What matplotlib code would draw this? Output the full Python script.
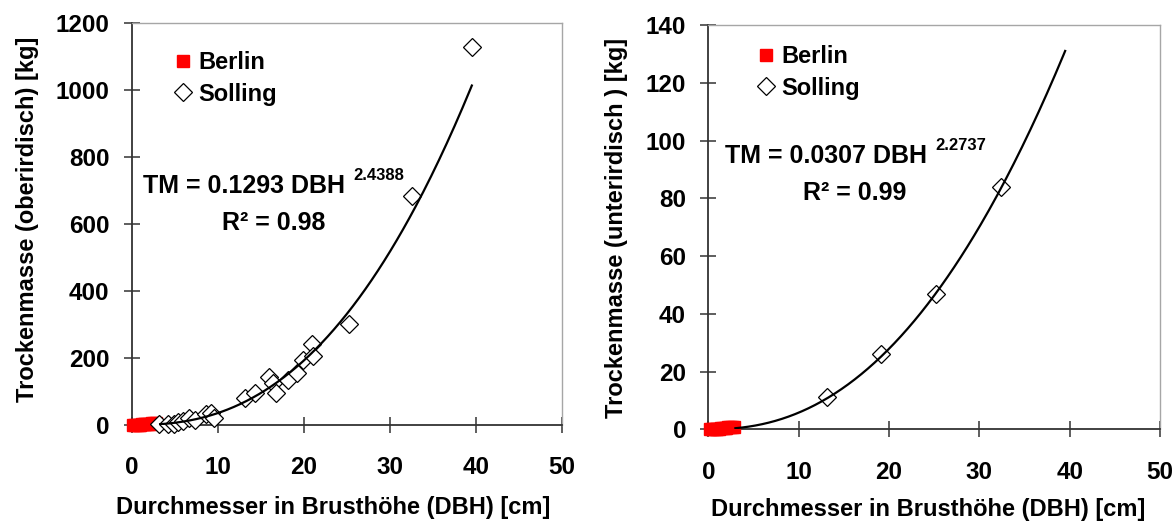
import numpy as np
import matplotlib.pyplot as plt
from matplotlib.lines import Line2D

plt.rcParams['font.family'] = ['Liberation Sans', 'DejaVu Sans']
plt.rcParams['font.weight'] = 'bold'

# Berlin saplings (small DBH, near-zero mass)
berlin_dbh = [0.2, 0.4, 0.6, 0.8, 1.0, 1.2, 1.4, 1.6, 1.8, 2.0, 2.2, 2.4, 2.6, 2.8]
berlin_above = [0.2, 0.4, 0.6, 0.9, 1.2, 1.6, 2.0, 2.5, 3.0, 3.6, 4.2, 4.9, 5.6, 6.2]
berlin_below = [0.05, 0.08, 0.1, 0.15, 0.2, 0.25, 0.3, 0.38, 0.45, 0.55, 0.65, 0.75, 0.85, 0.95]

# Solling trees, above ground
solling_dbh_above = [3.2, 4.2, 4.9, 5.4, 6.0, 6.6, 7.4, 8.6, 9.2, 9.6,
                     13.2, 14.3, 16.0, 16.4, 16.8, 18.2, 19.2, 19.9, 20.9, 21.1,
                     25.2, 32.5, 39.5]
solling_above = [3, 4, 2, 8, 12, 22, 16, 33, 35, 20,
                 80, 94, 144, 124, 96, 134, 154, 194, 243, 206,
                 301, 683, 1126]

# Solling trees, below ground
solling_dbh_below = [13.1, 19.1, 25.2, 32.4]
solling_below = [11.1, 26.1, 46.7, 83.8]

# power trendlines as printed on the chart: TM = a * DBH^b
trend_above = (0.1293, 2.4388, 3.3, 39.5)
trend_below = (0.0307, 2.2737, 3.0, 39.5)

xlabel = "Durchmesser in Brusthöhe (DBH) [cm]"
ylabel_above = "Trockenmasse (oberirdisch) [kg]"
ylabel_below = "Trockenmasse (unterirdisch ) [kg]"

fig = plt.figure(figsize=(11.76, 5.21), dpi=100)
ax1 = fig.add_axes([0.1120, 0.1843, 0.3661, 0.7722])
ax2 = fig.add_axes([0.6023, 0.1760, 0.3841, 0.7760])


def style_axes(ax, ymax, ystep):
    ax.set_xlim(0, 50)
    ax.set_ylim(0, ymax)
    ax.set_xticks(np.arange(0, 51, 10))
    ax.set_yticks(np.arange(0, ymax + 1, ystep))
    for s in ['left', 'bottom']:
        ax.spines[s].set_color('#333333')
        ax.spines[s].set_linewidth(1.3)
    for s in ['top', 'right']:
        ax.spines[s].set_color('#a6a6a6')
        ax.spines[s].set_linewidth(1.0)
    ax.tick_params(axis='y', direction='inout', length=12, width=1.1,
                   color='#333333', pad=10, labelsize=17.5)
    ax.tick_params(axis='x', direction='inout', length=11, width=1.1,
                   color='#333333', pad=17, labelsize=17.5)
    for lab in ax.get_xticklabels() + ax.get_yticklabels():
        lab.set_fontweight('bold')


def draw(ax, bx, by, sx, sy, trend):
    a, b, x0, x1 = trend
    xs = np.linspace(x0, x1, 200)
    ax.plot(bx, by, 's', color='red', mec='red', ms=9.3, clip_on=False, zorder=4)
    ax.plot(sx, sy, 'D', mfc='white', mec='black', mew=0.9, ms=8.7,
            clip_on=False, zorder=4)
    ax.plot(xs, a * xs ** b, color='black', lw=1.6, zorder=5)
    handles = [Line2D([], [], marker='s', ls='', color='red', ms=9.3),
               Line2D([], [], marker='D', ls='', mfc='white', mec='black',
                      mew=0.9, ms=8.7)]
    return handles


h = draw(ax1, berlin_dbh, berlin_above, solling_dbh_above, solling_above, trend_above)
style_axes(ax1, 1200, 200)
ax1.legend(h, ['Berlin', 'Solling'], loc='center left',
           bbox_to_anchor=(0.0966, 0.861), frameon=False, borderpad=0,
           borderaxespad=0, handlelength=0.8, handletextpad=0.25,
           labelspacing=0.35, prop={'size': 17, 'weight': 'bold'})
ax1.text(0.0262, 0.5767, "TM = 0.1293 DBH", transform=ax1.transAxes,
         fontsize=18, fontweight='bold', va='baseline', ha='left')
ax1.text(0.514, 0.609, "2.4388", transform=ax1.transAxes,
         fontsize=12, fontweight='bold', va='baseline', ha='left')
ax1.text(0.2099, 0.4847, "R\u00b2 = 0.98", transform=ax1.transAxes,
         fontsize=18, fontweight='bold', va='baseline', ha='left')
ax1.set_xlabel(xlabel, fontsize=17, fontweight='bold')
ax1.set_ylabel(ylabel_above, fontsize=17, fontweight='bold')
ax1.xaxis.set_label_coords(0.469, -0.205)
ax1.yaxis.set_label_coords(-0.243, 0.51)
ax1.xaxis.label.set_va('center')
ax1.yaxis.label.set_va('center')

h = draw(ax2, berlin_dbh, berlin_below, solling_dbh_below, solling_below, trend_below)
style_axes(ax2, 140, 20)
ax2.legend(h, ['Berlin', 'Solling'], loc='center left',
           bbox_to_anchor=(0.107, 0.8825), frameon=False, borderpad=0,
           borderaxespad=0, handlelength=0.8, handletextpad=0.25,
           labelspacing=0.35, prop={'size': 17, 'weight': 'bold'})
ax2.text(0.037, 0.6587, "TM = 0.0307 DBH", transform=ax2.transAxes,
         fontsize=18, fontweight='bold', va='baseline', ha='left')
ax2.text(0.5018, 0.691, "2.2737", transform=ax2.transAxes,
         fontsize=12, fontweight='bold', va='baseline', ha='left')
ax2.text(0.2096, 0.567, "R\u00b2 = 0.99", transform=ax2.transAxes,
         fontsize=18, fontweight='bold', va='baseline', ha='left')
ax2.set_xlabel(xlabel, fontsize=17, fontweight='bold')
ax2.set_ylabel(ylabel_below, fontsize=17, fontweight='bold')
ax2.xaxis.set_label_coords(0.486, -0.198)
ax2.yaxis.set_label_coords(-0.204, 0.498)
ax2.xaxis.label.set_va('center')
ax2.yaxis.label.set_va('center')

fig.savefig('out.png', dpi=100)
